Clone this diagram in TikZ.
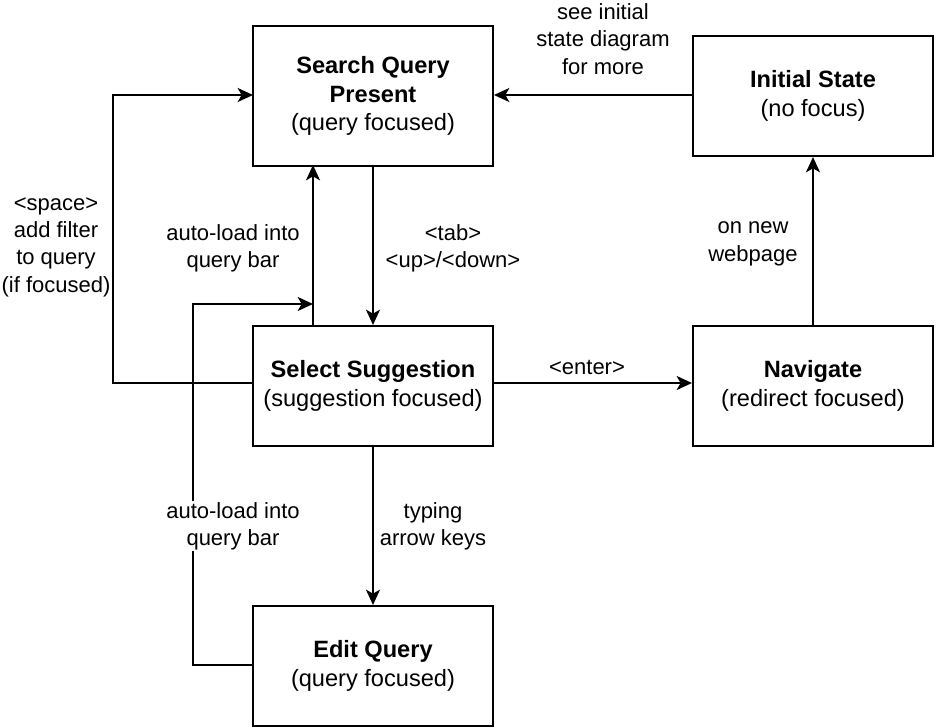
\documentclass[tikz,border=0pt]{standalone}
\usepackage{fontspec}
\setmainfont{Liberation Sans}
\usetikzlibrary{arrows.meta}
\begin{document}
\begin{tikzpicture}[x=0.75pt,y=-0.75pt,
  box/.style={draw,line width=1.5pt,minimum width=180pt,minimum height=90pt,inner sep=0pt,align=center,font=\fontsize{17.7}{21.5}\selectfont},
  lbl/.style={align=center,inner sep=1pt,fill=white,font=\fontsize{16.5}{20.5}\selectfont},
  conn/.style={line width=1.5pt,-{Stealth[length=11.5pt,width=10.5pt,inset=3pt]}}]
\useasboundingbox (0,0) rectangle (936,728);
\node[box,minimum height=105pt] (sq) at (373,96) {\textbf{Search Query}\\\textbf{Present}\\(query focused)};
\node[box] (is) at (813,96) {\textbf{Initial State}\\(no focus)};
\node[box] (ss) at (373,386) {\textbf{Select Suggestion}\\(suggestion focused)};
\node[box] (nv) at (813,386) {\textbf{Navigate}\\(redirect focused)};
\node[box] (eq) at (373,666) {\textbf{Edit Query}\\(query focused)};
\coordinate (a1) at (313,325);
\coordinate (a2) at (313,165);
\coordinate (lp) at (253,383);
\coordinate (lq) at (253,95);
\coordinate (ep) at (253,665);
\coordinate (et) at (313,304);
\draw[conn] (is.west |- 0,95) -- (sq.east |- 0,95);
\draw[conn] (sq.south) -- (ss.north);
\draw[conn] (a1) -- (a2);
\draw[conn] (lp) -- (113,383) -- (113,95) -- (lq);
\draw[conn] (ss.east |- 0,383) -- (nv.west |- 0,383);
\draw[conn] (nv.north) -- (is.south);
\draw[conn] (ss.south) -- (eq.north);
\draw[conn] (ep) -- (193,665) -- (193,304) -- (et);
\node[lbl] (l1) at (603,39) {see initial\\state diagram\\for more};
\node[lbl] (l2) at (453,248) {<tab>\\<up>/<down>};
\node[lbl] (l3) at (233,248) {auto-load into\\query bar};
\node[lbl,fill=none] (l4) at (56,247) {<space>\\add filter\\to query\\(if focused)};
\node[lbl] (l5) at (587,367) {<enter>};
\node[lbl] (l6) at (753,244) {on new\\webpage};
\node[lbl] (l7) at (433,526) {typing\\arrow keys};
\node[lbl] (l8) at (233,526) {auto-load into\\query bar};
\end{tikzpicture}
\end{document}
